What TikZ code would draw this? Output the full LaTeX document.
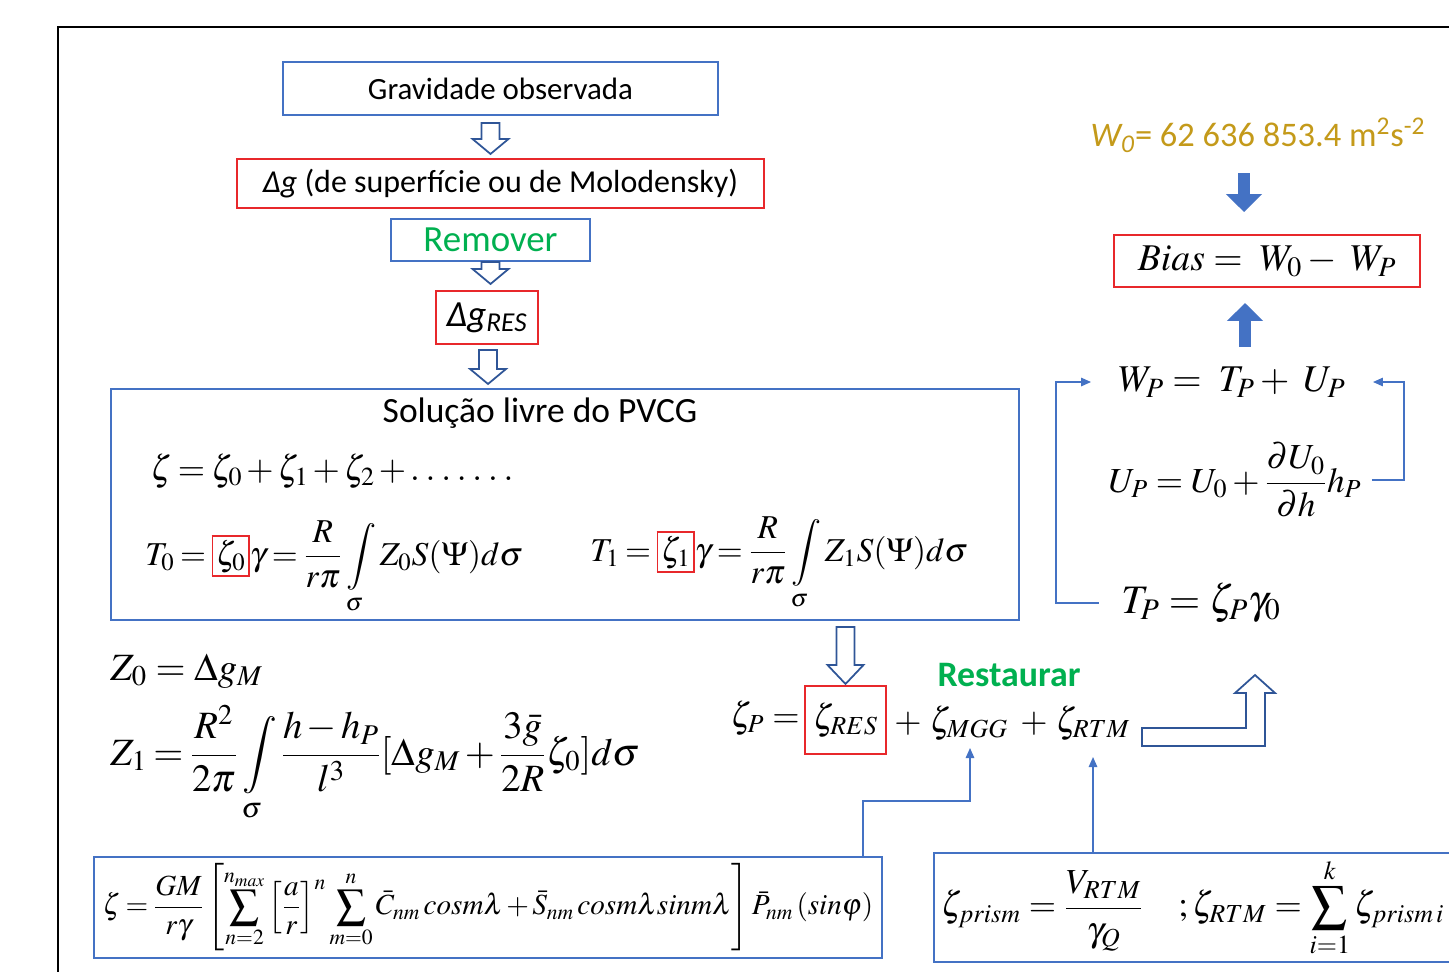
\documentclass[tikz,border=0pt]{standalone}
\usepackage{amsmath}
\usepackage{mathptmx}
\usepackage[no-math]{fontspec}
\setmainfont{Carlito}
\usetikzlibrary{positioning,arrows.meta,calc}
\definecolor{azul}{HTML}{4472C4}
\definecolor{azulescuro}{HTML}{2F5597}
\definecolor{vermelho}{HTML}{E8282B}
\definecolor{verde}{HTML}{00B050}
\definecolor{ouro}{HTML}{C49A1A}
\newcommand{\px}{0.02cm}
\setlength{\fboxsep}{1.5pt}
\setlength{\fboxrule}{0.9pt}
\tikzset{
  caixa/.style={draw=azul, line width=1.1pt, align=center, inner sep=0pt},
  caixaverm/.style={draw=vermelho, line width=1.1pt, align=center, inner sep=0pt},
  rotulo/.style={font=\fontsize{17.6}{20}\selectfont},
  formula/.style={font=\fontsize{20}{24}\selectfont, inner sep=0pt},
  conector/.style={-{Triangle[length=0.2cm,width=0.17cm]}, draw=azul, line width=0.8pt},
  setacheia/.style={-{Triangle[length=0.36cm,width=0.7cm]}, draw=azul, line width=0.24cm},
  setaoca/.style={draw=azulescuro, fill=white, line width=1pt, line join=miter},
  pics/blocoseta/.style 2 args={code={
    \draw[setaoca] (-9,0) -- (9,0) -- (9,#1) -- (18,#1) -- (0,{#1+#2}) -- (-18,#1) -- (-9,#1) -- cycle;
  }},
}
\begin{document}
\begin{tikzpicture}[x=0.02cm, y=-0.02cm]
  \clip (0,0) rectangle (1449,971);
  \fill[white] (0,0) rectangle (1449,971);
  % moldura
  \draw[line width=1.7pt] (58,27) rectangle (1500,1020);

  % coluna da esquerda
  \node[caixa, rotulo, minimum width=435*\px, minimum height=53*\px] (grav) at (500.5,88.5) {Gravidade observada};
  \node[caixaverm, font=\fontsize{18.2}{20}\selectfont, minimum width=527*\px, minimum height=49*\px] (dg) at (500.5,183.5) {{\itshape Δg} (de superfície ou de Molodensky)};
  \node[caixa, font=\fontsize{21}{24}\selectfont, text=verde, minimum width=199*\px, minimum height=42*\px] (remover) at (490.5,240) {Remover};
  \node[caixaverm, font=\fontsize{21}{24}\selectfont, minimum width=102*\px, minimum height=53*\px] (dgres) at (487,317.5) {{\itshape Δg\textsubscript{RES}}};
  \node[caixa, minimum width=908*\px, minimum height=231*\px] (pvcg) at (565,504.5) {};
  \node[font=\fontsize{20.2}{23}\selectfont] (titulo) at (540,413) {Solução livre do PVCG};
  \pic at ($(grav.south)+(-10,7)$) {blocoseta={16}{15}};
  \pic at (remover.south) {blocoseta={7}{15}};
  \pic at ($(dgres.south)+(1,5)$) {blocoseta={19}{15}};

  \node[formula, anchor=base west] (zeta) at (150,480) {\thickmuskip=3mu\medmuskip=2mu$\zeta = \zeta_0 + \zeta_1 + \zeta_2 + .\;.\;.\;.\;.\;.\;.$};
  \node[formula, font=\fontsize{19}{23}\selectfont, anchor=base west] (tzero) at (145,565) {\thickmuskip=3mu\medmuskip=2mu$\displaystyle T_0 = \fcolorbox{vermelho}{white}{$\zeta_0$}\gamma = \frac{R}{r\pi}\int\limits_\sigma Z_0 S(\Psi)d\sigma$};
  \node[formula, font=\fontsize{19}{23}\selectfont, anchor=base west] (tum) at (590,561) {\thickmuskip=3mu\medmuskip=2mu$\displaystyle T_1 = \fcolorbox{vermelho}{white}{$\zeta_1$}\gamma = \frac{R}{r\pi}\int\limits_\sigma Z_1 S(\Psi)d\sigma$};

  \node[formula, font=\fontsize{22}{26}\selectfont, anchor=base west] (zzero) at (110,680) {$Z_0 = \Delta g_M$};
  \node[formula, font=\fontsize{22}{26}\selectfont, anchor=base west] (zum) at (110,765) {\thickmuskip=3mu\medmuskip=2mu$\displaystyle Z_1 = \frac{R^2}{2\pi}\int\limits_\sigma \frac{h-h_P}{l^3}[\Delta g_M + \frac{3\bar{g}}{2R}\zeta_0]d\sigma$};

  % restaurar
  \node[formula, anchor=base west] (zpeq) at (730,727) {$\zeta_P =$};
  \node[caixaverm, formula, minimum width=81*\px, minimum height=68*\px] (zres) at (845.5,720) {$\zeta_{RES}$};
  \node[formula, anchor=base west] (zmgg) at (894,732) {$+\ \zeta_{MGG}$};
  \node[formula, anchor=base west] (zrtm) at (1020,732) {$+\ \zeta_{RTM}$};
  \node[font=\fontsize{20.4}{23}\selectfont\bfseries, text=verde] (restaurar) at (1009,675) {Restaurar};
  \pic at ($(zres.north |- pvcg.south)+(0,6)$) {blocoseta={38}{19}};
  \draw[setaoca] (1142,728) -- (1246,728) -- (1246,693) -- (1235,693) -- (1255,675) -- (1275,693) -- (1265,693) -- (1265,746) -- (1142,746) -- cycle;

  % modelos
  \node[caixa, font=\fontsize{16.6}{19}\selectfont, minimum width=788*\px, minimum height=101*\px] (geoide) at (488,907.5) {\thickmuskip=3mu\medmuskip=2mu$\displaystyle \zeta = \frac{GM}{r\gamma}\left[\sum_{n=2}^{n_{max}}\left[\frac{a}{r}\right]^n \sum_{m=0}^{n}\bar{C}_{nm}\, cosm\lambda + \bar{S}_{nm}\, cosm\lambda sinm\lambda\right]\bar{P}_{nm}\left(sin\varphi\right)$};
  \node[caixa, formula, anchor=west, inner xsep=7*\px, minimum height=109*\px] (prisma) at (933,907.5) {$\displaystyle \zeta_{prism} = \frac{V_{RTM}}{\gamma_Q}\quad ;\zeta_{RTM} = \sum_{i=1}^{k}\zeta_{prism\,i}$\hspace{1.2cm}};
  \coordinate (pmgg) at (970,748);
  \coordinate (prtm) at (1093,757);
  \draw[conector] ([xshift=-20*\px]geoide.north east) -- ++(0,-55) -| (pmgg);
  \draw[conector] (prisma.north -| prtm) -- (prtm);

  % coluna da direita
  \node[font=\fontsize{19.6}{22}\selectfont, text=ouro] (wzero) at (1258,135) {{\itshape W\textsubscript{0}}= 62 636 853.4 m\textsuperscript{2}s\textsuperscript{-2}};
  \node[caixaverm, formula, font=\fontsize{21.5}{25}\selectfont, minimum width=306*\px, minimum height=52*\px] (bias) at (1267,261) {$\mathit{Bias} =\ W_0 -\ W_P$};
  \node[formula, font=\fontsize{21.5}{25}\selectfont, inner xsep=27*\px] (wp) at (1232,382) {$W_P =\ T_P +\ U_P$};
  \node[formula, inner xsep=10*\px] (up) at (1235,480) {$U_P = U_0 + \dfrac{\partial U_0}{\partial h}h_P$};
  \node[formula, font=\fontsize{23}{27}\selectfont, inner xsep=22*\px] (tp) at (1201,603) {$T_P = \zeta_P\gamma_0$};
  \draw[setacheia, shorten <=0.3cm, shorten >=0.44cm] ([xshift=-14*\px]wzero.south) -- ([xshift=-14*\px]wzero.south |- bias.north);
  \draw[setacheia, shorten <=0.4cm, shorten >=0.3cm] ([xshift=13*\px]wp.north) -- ([xshift=13*\px]wp.north |- bias.south);
  \draw[conector] (tp.west) -- ++(-43,0) |- (wp.west);
  \draw[conector] (up.east) -- ++(32,0) |- (wp.east);
\end{tikzpicture}
\end{document}
